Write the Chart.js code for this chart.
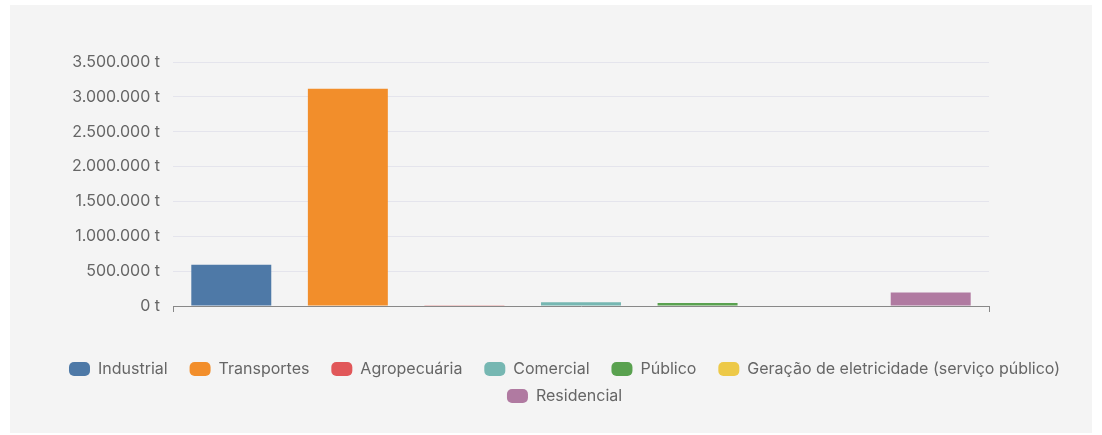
<!DOCTYPE html>
<html>
<head>
<meta charset="utf-8">
<script src="https://cdn.jsdelivr.net/npm/chart.js@4.4.0/dist/chart.umd.min.js"></script>
<style>
    html, body { margin: 0; padding: 0; background: #ffffff; overflow: hidden; }
    .panel { position: absolute; left: 10px; top: 5px; width: 1082px; height: 428px; background: #f4f4f4; }
    .wrap { position: absolute; left: 26px; top: 5px; width: 1088px; height: 428px; }
</style>
</head>
<body>
<div class="panel"></div>
<div class="wrap"><canvas id="emissoes"></canvas></div>
<script>
// setores e emissões (t)
const setores = ['Industrial', 'Transportes', 'Agropecuária', 'Comercial', 'Público',
    'Geração de eletricidade (serviço público)', 'Residencial'];
const emissoes = [590000, 3115000, 12000, 52000, 43000, 0, 195000];
const cores = ['#4e79a7', '#f28e2b', '#e15759', '#76b7b2', '#59a14f', '#edc948', '#b07aa1'];

const fmt = new Intl.NumberFormat('pt-BR');

let elem = document.getElementById('emissoes').getContext('2d');

new Chart(elem, {
    type: 'bar',
    data: {
        labels: [''],
        datasets: setores.map((nome, i) => ({
            label: nome,
            data: [emissoes[i]],
            backgroundColor: cores[i],
            barPercentage: 0.686,
            categoryPercentage: 1
        }))
    },
    options: {
        responsive: true,
        maintainAspectRatio: false,
        animation: false,
        layout: {padding: {top: 57, left: 0, right: 0, bottom: 19}},
        scales: {
            x: {
                grid: {drawOnChartArea: false, tickLength: 6, color: '#888'},
                border: {color: '#888'},
                ticks: {display: false},
                afterFit: (scale) => { scale.height += 38; }
            },
            y: {
                min: 0,
                max: 3500000,
                border: {display: false},
                grid: {color: '#e4e4ec', drawTicks: false},
                ticks: {
                    stepSize: 500000,
                    padding: 13,
                    color: '#666',
                    font: {family: 'Inter', size: 16},
                    callback: (v) => fmt.format(v) + ' t'
                },
                afterFit: (scale) => { scale.width = 147; }
            },
            // espaço vazio à direita, para a legenda poder ser mais larga que o gráfico
            folga: {
                position: 'right',
                grid: {display: false},
                border: {display: false},
                ticks: {display: false},
                afterFit: (scale) => { scale.width = 125; }
            }
        },
        plugins: {
            tooltip: {enabled: false},
            legend: {
                position: 'bottom',
                labels: {
                    boxWidth: 21,
                    boxHeight: 14,
                    useBorderRadius: true,
                    borderRadius: 5,
                    padding: 11,
                    color: '#666',
                    font: {family: 'Inter', size: 16},
                    generateLabels: (chart) => Chart.defaults.plugins.legend.labels.generateLabels(chart)
                        .map(l => Object.assign(l, {text: l.text + '\u2002\u2009', lineWidth: 0}))
                }
            }
        }
    }
});
</script>
</body>
</html>
